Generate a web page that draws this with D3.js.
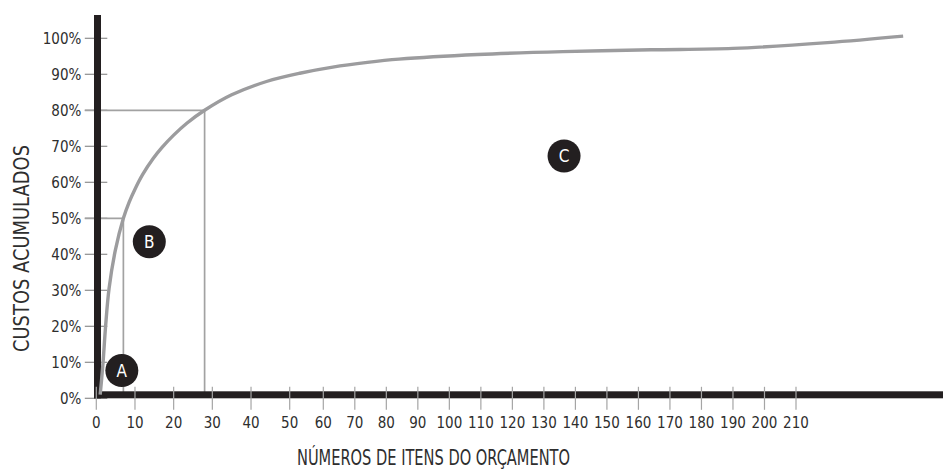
<!DOCTYPE html>
<html>
<head>
<meta charset="utf-8">
<script src="https://cdn.jsdelivr.net/npm/d3@7"></script>
<style>
  html, body { margin: 0; padding: 0; background: #ffffff; }
  svg { display: block; }
  text { font-family: "Liberation Sans Narrow", "DejaVu Sans Condensed", "Open Sans", sans-serif; }
</style>
</head>
<body>
<svg id="chart" width="943" height="469"></svg>
<script>
// Cumulative cost curve (ABC / Pareto)
const items      = [1, 1.35, 1.75, 2.4, 3.3, 4.9, 7, 8.5, 10, 12, 14.7, 17, 20, 23.4, 28, 35, 44, 53, 63, 74, 84, 109, 136, 164, 190, 220, 244];
const cumulative = [1, 5, 10, 20, 30.5, 41, 50, 54.5, 58.1, 62.2, 66.6, 69.7, 73.1, 76.4, 80, 84.3, 88, 90.3, 92, 93.3, 94.2, 95.5, 96.3, 96.8, 97.2, 98.8, 100.6];

const xTicks = [0, 10, 20, 30, 40, 50, 60, 70, 80, 90, 100, 110, 120, 130, 140, 150, 160, 170, 180, 190, 200, 210];
const yTicks = [0, 10, 20, 30, 40, 50, 60, 70, 80, 90, 100];

// Reference points marked with guide lines (items, cumulative %)
const guideItems = [7, 28];
const guideCosts = [50, 80];

// Class markers A, B, C placed in data space
const zoneLabels = ["A", "B", "C"];
const zoneItems  = [6.6, 13.7, 136.4];
const zoneCosts  = [7.7, 43.5, 67.3];

const xTitle = "NÚMEROS DE ITENS DO ORÇAMENTO";
const yTitle = "CUSTOS ACUMULADOS";

const svg = d3.select("#chart");
const W = 943, H = 469;

// The item axis is compressed after 50
const x = d3.scaleLinear().domain([0, 50, 60, 210]).range([96.3, 289.7, 323.3, 796]);
const y = d3.scaleLinear().domain([0, 100]).range([398.3, 38.3]);

const ink = "#231f20";
const tickColor = "#8e8e8e";
const curveColor = "#9c9c9e";
const textColor = "#2e2e2e";

const x0 = x(0), y0 = y(0);

// y ticks (sit behind the axis bar)
svg.append("g").selectAll("line").data(yTicks).join("line")
  .attr("x1", x0 - 11.5).attr("x2", x0 + 11)
  .attr("y1", d => y(d)).attr("y2", d => y(d))
  .attr("stroke", tickColor).attr("stroke-width", 1.2);

// guide lines
const guides = svg.append("g");
guideItems.forEach((g, i) => {
  guides.append("line")
    .attr("x1", x0 - 11.5).attr("x2", x(g))
    .attr("y1", y(guideCosts[i])).attr("y2", y(guideCosts[i]))
    .attr("stroke", "#a2a2a2").attr("stroke-width", 1.7);
  guides.append("line")
    .attr("x1", x(g)).attr("x2", x(g))
    .attr("y1", y(guideCosts[i])).attr("y2", y0 - 2)
    .attr("stroke", "#a2a2a2").attr("stroke-width", 1.7);
});

// axis bars
svg.append("rect")
  .attr("x", x0 - 2.3).attr("y", 15)
  .attr("width", 7).attr("height", y0 - 15)
  .attr("fill", ink);
svg.append("rect")
  .attr("x", x0 - 2.3).attr("y", y0 - 7)
  .attr("width", W - (x0 - 2.3)).attr("height", 7)
  .attr("fill", ink);

// x ticks (drawn across the bar)
svg.append("g").selectAll("line").data(xTicks).join("line")
  .attr("x1", d => x(d)).attr("x2", d => x(d))
  .attr("y1", y0 - 11.5).attr("y2", y0 + 11.5)
  .attr("stroke", "#a5a5a5").attr("stroke-width", 1.2);

// tick labels
svg.append("g").selectAll("text").data(yTicks).join("text")
  .attr("x", x0 - 15).attr("y", d => y(d) + 5.2)
  .attr("text-anchor", "end")
  .attr("font-size", 15).attr("fill", textColor)
  .text(d => d + "%");

svg.append("g").selectAll("text").data(xTicks).join("text")
  .attr("x", d => x(d)).attr("y", 427.5)
  .attr("text-anchor", "middle")
  .attr("font-size", 15).attr("fill", textColor)
  .text(d => d);

// cumulative curve
const pts = items.map((v, i) => [v, cumulative[i]]);
svg.append("path")
  .datum(pts)
  .attr("fill", "none")
  .attr("stroke", curveColor)
  .attr("stroke-width", 3.4)
  .attr("d", d3.line().x(d => x(d[0])).y(d => y(d[1])).curve(d3.curveCatmullRom.alpha(0.5)));

// zone markers
const zones = svg.append("g").selectAll("g").data(zoneLabels).join("g")
  .attr("transform", (d, i) => `translate(${x(zoneItems[i])},${y(zoneCosts[i])})`);
zones.append("circle").attr("r", 16.5).attr("fill", ink);
zones.append("text")
  .attr("text-anchor", "middle").attr("y", 6)
  .attr("font-size", 17).attr("fill", "#ffffff")
  .text(d => d);

// axis titles
svg.append("text")
  .attr("x", 433.5).attr("y", 465)
  .attr("text-anchor", "middle")
  .attr("font-size", 21).attr("fill", textColor)
  .attr("textLength", 273).attr("lengthAdjust", "spacingAndGlyphs")
  .text(xTitle);

svg.append("text")
  .attr("transform", "translate(28.5,248.5) rotate(-90)")
  .attr("text-anchor", "middle")
  .attr("font-size", 21).attr("fill", textColor)
  .attr("textLength", 207).attr("lengthAdjust", "spacingAndGlyphs")
  .text(yTitle);
</script>
</body>
</html>
